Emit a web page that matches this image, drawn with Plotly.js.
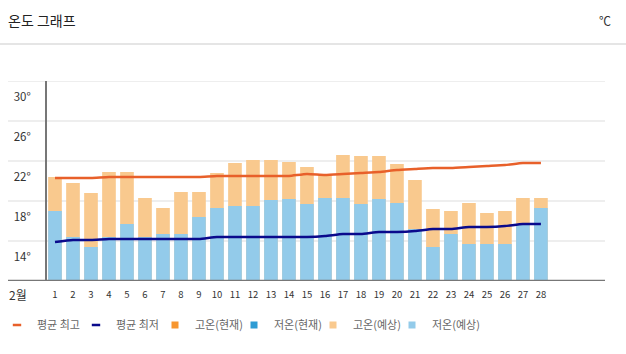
<!DOCTYPE html>
<html>
<head>
<meta charset="utf-8">
<script src="https://cdn.plot.ly/plotly-3.0.1.min.js"></script>
<style>html,body{margin:0;padding:0;background:#fff;}#chart{width:626px;height:354px;}</style>
</head>
<body>
<div id="chart"></div>
<script>
// ---- data ----
const days = [1,2,3,4,5,6,7,8,9,10,11,12,13,14,15,16,17,18,19,20,21,22,23,24,25,26,27,28];
const dayLabels = days.map(String);
const avgHigh = [21.9,21.9,21.9,22.0,22.0,22.0,22.0,22.0,22.0,22.1,22.1,22.1,22.1,22.1,22.3,22.2,22.3,22.4,22.5,22.7,22.8,22.9,22.9,23.0,23.1,23.2,23.4,23.4];
const avgLow  = [15.5,15.7,15.7,15.8,15.8,15.8,15.8,15.8,15.8,16.0,16.0,16.0,16.0,16.0,16.0,16.1,16.3,16.3,16.5,16.5,16.6,16.8,16.8,17.0,17.0,17.1,17.3,17.3];
const highForecast = [22.0,21.4,20.4,22.5,22.5,19.9,18.9,20.5,20.5,22.4,23.4,23.7,23.7,23.5,23.0,22.2,24.2,24.1,24.1,23.3,21.7,18.8,18.6,19.4,18.4,18.6,19.9,19.9];
const lowForecast  = [18.6,16.0,15.0,16.0,17.3,16.0,16.3,16.3,18.0,18.9,19.1,19.1,19.7,19.8,19.3,19.9,19.9,19.3,19.8,19.4,16.8,15.0,16.3,15.3,15.3,15.3,17.3,18.9];
const highNowDays = [];
const highNow = [];
const lowNowDays = [];
const lowNow = [];
const yTicks = [14,18,22,26,30];
const yTickText = ['14°','18°','22°','26°','30°'];
const gridVals = [15.6,19.6,23.6,27.6,31.6];
const seriesNames = ['평균 최고','평균 최저','고온(현재)','저온(현재)','고온(예상)','저온(예상)'];
const monthLabel = '2월';
const chartTitle = '온도 그래프';
const unitLabel = '℃';

// ---- style ----
const C = {
  avgHigh:'#E8602A', avgLow:'#0A0A8C',
  highNow:'#F7962F', lowNow:'#2E9CD4',
  highFc:'#F9C98E', lowFc:'#93CBEA'
};
const yMin = 11.6, yMax = 31.6;
const leftExt = (8-47)/558;

const traces = [
  {type:'bar', x:days, y:highForecast, marker:{color:C.highFc}, width:0.76, showlegend:false, hoverinfo:'skip'},
  {type:'bar', x:days, y:lowForecast, marker:{color:C.lowFc}, width:0.76, showlegend:false, hoverinfo:'skip'},
  {type:'bar', x:highNowDays, y:highNow, marker:{color:C.highNow}, width:0.76, showlegend:false},
  {type:'bar', x:lowNowDays, y:lowNow, marker:{color:C.lowNow}, width:0.76, showlegend:false},
  {type:'scatter', mode:'lines', x:days, y:avgHigh, line:{color:C.avgHigh, width:2.5, shape:'spline', smoothing:0.5}, showlegend:false},
  {type:'scatter', mode:'lines', x:days, y:avgLow, line:{color:C.avgLow, width:2.5, shape:'spline', smoothing:0.5}, showlegend:false}
];
// legend entries
const legendColors = [C.avgHigh, C.avgLow, C.highNow, C.lowNow, C.highFc, C.lowFc];
const legendSymbols = ['line-ew-open','line-ew-open','square','square','square','square'];
seriesNames.forEach((n,i)=>{
  traces.push({type:'scatter', mode:'markers', x:[null], y:[null], name:n,
    marker: legendSymbols[i]==='square'
      ? {symbol:'square', size:7, color:legendColors[i]}
      : {symbol:'line-ew-open', size:6, color:legendColors[i], line:{color:legendColors[i], width:2.5}},
    showlegend:true});
});
// invisible spacer entry so the last legend text is not clipped
traces.push({type:'scatter', mode:'markers', x:[null], y:[null], name:' ',
  marker:{size:1, color:'rgba(0,0,0,0)', line:{width:0, color:'rgba(0,0,0,0)'}}, showlegend:true});

const shapes = gridVals.map(v=>({type:'line', xref:'paper', yref:'y', x0:leftExt, x1:1, y0:v, y1:v,
  line:{color:'#eeeeee', width:2}, layer:'below'}));
shapes.push({type:'line', xref:'paper', yref:'y', x0:leftExt, x1:1, y0:yMin, y1:yMin, line:{color:'#777777', width:2.5}, layer:'above'});
shapes.push({type:'line', xref:'paper', yref:'paper', x0:-47/558, x1:579/558, y0:(281-44)/200, y1:(281-44)/200, line:{color:'#dddddd', width:1.5}});

const layout = {
  width:626, height:354,
  margin:{l:47, r:21, t:81, b:73, autoexpand:false},
  paper_bgcolor:'#fff', plot_bgcolor:'rgba(0,0,0,0)',
  font:{family:'"Noto Sans CJK KR", "Noto Sans", sans-serif', color:'#333'},
  barmode:'overlay',
  title:{text:chartTitle, xref:'container', yref:'container', x:8/626, xanchor:'left', y:1-21/354, yanchor:'middle',
    font:{size:14, color:'#222', family:'"Noto Sans CJK KR", sans-serif'}},
  xaxis:{range:[0.556,31.56], tickvals:days, ticktext:dayLabels, showgrid:false, zeroline:false, showline:false,
    ticks:'', tickfont:{size:9.5, color:'#333'}, ticklabelstandoff:6, fixedrange:true},
  yaxis:{range:[yMin,yMax], tickvals:yTicks, ticktext:yTickText, showgrid:false, zeroline:false,
    showline:true, linecolor:'#777777', linewidth:2, ticks:'', tickfont:{size:11.5, color:'#333'}, ticklabelstandoff:12, fixedrange:true},
  shapes:shapes,
  annotations:[
    {xref:'paper', yref:'paper', x:(18-47)/558, y:(281-294)/200, text:monthLabel, showarrow:false, xanchor:'center', yanchor:'middle', font:{size:12, color:'#333'}},
    {xref:'paper', yref:'paper', x:(613-47)/558, y:(281-20)/200, text:unitLabel, showarrow:false, xanchor:'right', yanchor:'middle', font:{size:12, color:'#333'}}
  ],
  legend:{orientation:'h', x:(-3-47)/558, xanchor:'left', y:(281-325)/200, yanchor:'middle',
    font:{size:11, color:'#666'}, itemwidth:30, traceorder:'normal', entrywidth:34, tracegroupgap:0, bgcolor:'rgba(0,0,0,0)'},
  showlegend:true
};
Plotly.newPlot('chart', traces, layout, {displayModeBar:false, staticPlot:true});
</script>
</body>
</html>
